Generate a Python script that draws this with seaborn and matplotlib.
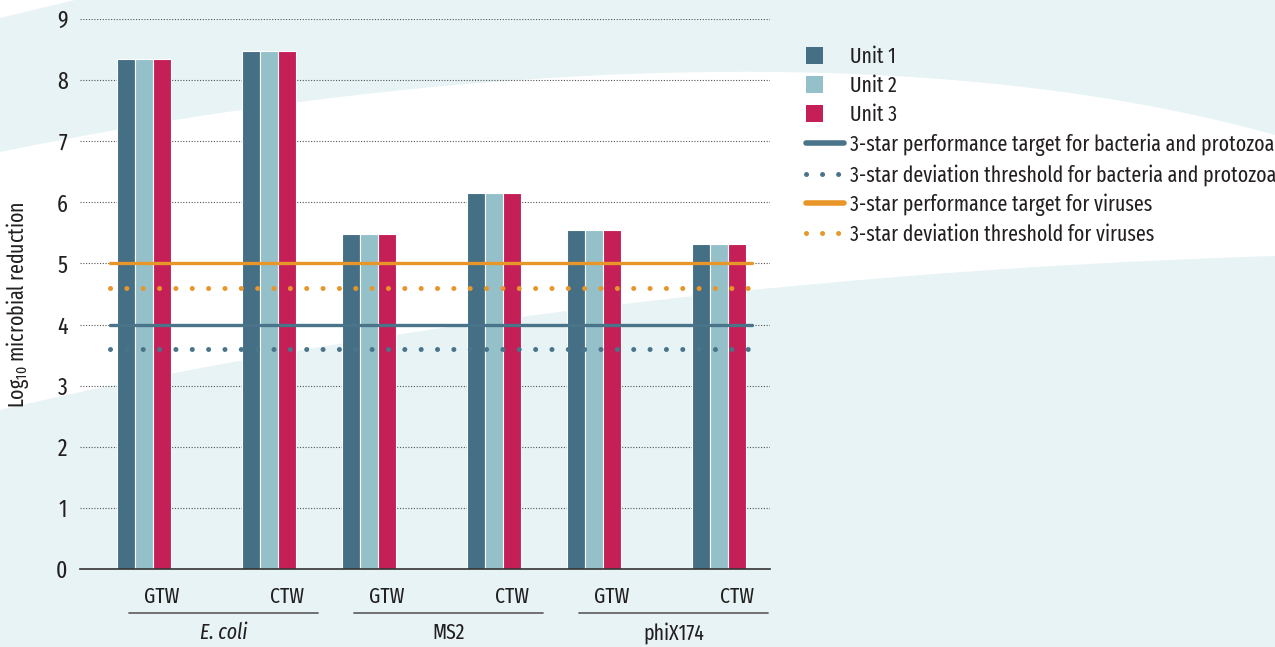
import numpy as np
import pandas as pd
import seaborn as sns
import matplotlib.pyplot as plt
from matplotlib.path import Path
from matplotlib.patches import PathPatch, Patch, Rectangle, Polygon
from matplotlib.lines import Line2D
from matplotlib.legend_handler import HandlerPatch

# Data: log10 reduction per organism / water type, for each unit
organisms = ['E. coli', 'MS2', 'phiX174']
waters = ['GTW', 'CTW']
units = ['Unit 1', 'Unit 2', 'Unit 3']
unit1 = [8.35, 8.47, 5.48, 6.15, 5.54, 5.32]
unit2 = [8.35, 8.47, 5.48, 6.15, 5.54, 5.32]
unit3 = [8.35, 8.47, 5.48, 6.15, 5.54, 5.32]
bact_target = 4.0
bact_threshold = 3.6
virus_target = 5.0
virus_threshold = 4.6

unit_colors = ['#446f84', '#94c1c9', '#c41f56']
blue = '#4a7489'
orange = '#e8962a'
bg = '#e7f3f5'
txt = '#231f20'
FONT = 'Fira Sans Extra Condensed'
FS = 15.5

sns.set_theme(style='white')
plt.rcParams['font.family'] = [FONT, 'DejaVu Sans']
plt.rcParams['mathtext.fontset'] = 'custom'
plt.rcParams['mathtext.rm'] = FONT
plt.rcParams['mathtext.it'] = FONT + ':italic'
plt.rcParams['text.color'] = txt

# long-form table; x is the native position of each organism/water slot
rows = []
for k, (uname, vals) in enumerate(zip(units, [unit1, unit2, unit3])):
    for i, org in enumerate(organisms):
        for j, w in enumerate(waters):
            rows.append({'pos': i * 2.25 + j * 1.25, 'Organism': org, 'Water': w,
                         'Unit': uname, 'Reduction': vals[i * 2 + j]})
df = pd.DataFrame(rows)

W, H = 1275, 647
fig = plt.figure(figsize=(W / 100, H / 100), dpi=100)
fig.patch.set_facecolor(bg)

def fp(x, y):
    return (x / W, 1 - y / H)

# white swoosh in the background
verts = [fp(0, 152), fp(400, 70), fp(900, 30), fp(1275, 135),
         fp(1275, 256), fp(750, 272), fp(300, 340), fp(0, 410), fp(0, 152)]
codes = [Path.MOVETO, Path.CURVE4, Path.CURVE4, Path.CURVE4,
         Path.LINETO, Path.CURVE4, Path.CURVE4, Path.CURVE4, Path.CLOSEPOLY]
fig.patches.append(PathPatch(Path(verts, codes), transform=fig.transFigure,
                             facecolor='white', edgecolor='none', zorder=-10))
fig.patches.append(Polygon([fp(0, 0), fp(75, 0), fp(0, 18)], closed=True,
                           transform=fig.transFigure, facecolor='white',
                           edgecolor='none', zorder=-10))

ax = fig.add_axes([80 / W, 78 / H, 690 / W, 550 / H])
ax.set_facecolor('none')

sns.barplot(data=df, x='pos', y='Reduction', hue='Unit', hue_order=units,
            palette=unit_colors, native_scale=True, width=0.54, errorbar=None,
            edgecolor='white', linewidth=0.8, saturation=1, legend=False,
            ax=ax, zorder=3)

ax.set_xlim(-0.64, 6.26)
ax.set_ylim(0, 9)
ax.set_yticks(range(0, 10))
ax.yaxis.grid(True, color='#555555', linestyle=(0, (1, 1.5)), linewidth=0.8, zorder=0)
ax.xaxis.grid(False)
for s in ['top', 'right', 'left']:
    ax.spines[s].set_visible(False)
ax.spines['bottom'].set_color('#333333')
ax.spines['bottom'].set_linewidth(1.2)
ax.spines['bottom'].set_zorder(4)
ax.tick_params(axis='y', length=0, pad=9, labelsize=FS + 1.5, labelcolor=txt)
ax.tick_params(axis='x', length=0, pad=12, labelsize=FS, labelcolor=txt)

tick_pos = [i * 2.25 + j * 1.25 + 0.18 for i in range(len(organisms)) for j in range(len(waters))]
ax.set_xticks(tick_pos)
ax.set_xticklabels(waters * len(organisms))
ax.set_xlabel('')
ax.set_ylabel('')

# group underlines and organism labels
trans = ax.get_xaxis_transform()
for i, org in enumerate(organisms):
    c = i * 2.25 + 0.625 + 0.17
    ax.plot([c - 0.945, c + 0.945], [-0.08, -0.08], color='#666666', lw=1.3,
            transform=trans, clip_on=False)
    ax.text(c, -0.116, org, transform=trans, ha='center', va='center', fontsize=FS,
            style='italic' if org == 'E. coli' else 'normal', color=txt)

# reference lines
x0, x1 = 30 / 690, 672 / 690
dot = dict(linestyle=(0, (0.01, 3.26)), dash_capstyle='round', linewidth=3.6, zorder=5)
ax.axhline(virus_target, xmin=x0, xmax=x1, color=orange, linewidth=2.4, zorder=5)
ax.axhline(virus_threshold, xmin=x0, xmax=x1, color=orange, **dot)
ax.axhline(bact_target, xmin=x0, xmax=x1, color=blue, linewidth=2.4, zorder=5)
ax.axhline(bact_threshold, xmin=x0, xmax=x1, color=blue, **dot)

fig.text(18 / W, 1 - 305 / H, 'Log$_{10}$ microbial reduction', rotation=90,
         ha='center', va='center', fontsize=FS, color=txt)

# legend
def square(legend, orig_handle, xdescent, ydescent, width, height, fontsize):
    side = 12.2
    return Rectangle((-xdescent, -ydescent + (height - side) / 2), side, side)

handles = [Patch(facecolor=c, edgecolor='none') for c in unit_colors]
handles += [
    Line2D([], [], color=blue, lw=4, solid_capstyle='round'),
    Line2D([], [], color=blue, lw=3.6, linestyle=(0, (0.01, 3.2)), dash_capstyle='round'),
    Line2D([], [], color=orange, lw=4, solid_capstyle='round'),
    Line2D([], [], color=orange, lw=3.6, linestyle=(0, (0.01, 3.2)), dash_capstyle='round'),
]
labels = units + ['3-star performance target for bacteria and protozoa',
                  '3-star deviation threshold for bacteria and protozoa',
                  '3-star performance target for viruses',
                  '3-star deviation threshold for viruses']
fig.legend(handles, labels, loc='upper left', bbox_to_anchor=fp(806, 46),
           frameon=False, fontsize=FS, handlelength=1.75, handletextpad=0.3,
           labelspacing=0.36, borderpad=0, borderaxespad=0,
           handler_map={Patch: HandlerPatch(patch_func=square)})

fig.savefig('out.png', dpi=100, facecolor=bg)
